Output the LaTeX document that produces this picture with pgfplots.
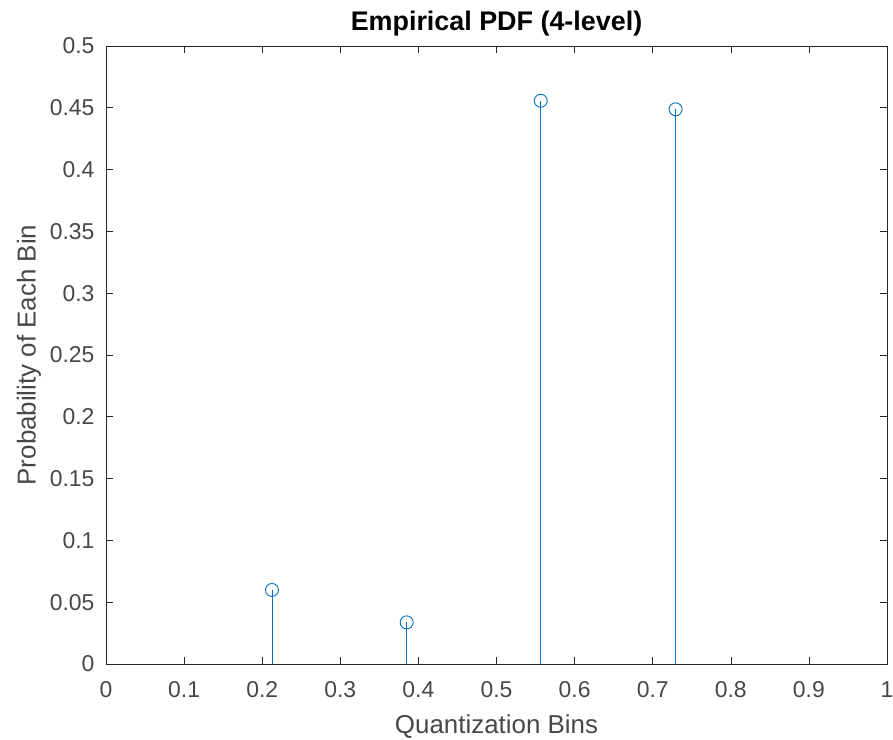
\documentclass[border=0pt]{standalone}
\usepackage{pgfplots}
\pgfplotsset{compat=1.18}
\usepackage{fontspec}
\setmainfont{Liberation Sans}
\definecolor{mblue}{rgb}{0,0.447,0.741}
\definecolor{axgray}{rgb}{0.15,0.15,0.15}
\begin{document}
\begin{tikzpicture}
\path[use as bounding box] (-106bp,-76bp) rectangle (787bp,664bp);
\begin{axis}[
  at={(0,0)}, anchor=south west,
  width=781bp, height=618bp, scale only axis,
  xmin=0, xmax=1, ymin=0, ymax=0.5,
  xtick={0,0.1,...,1.0},
  ytick={0,0.05,...,0.5},
  xticklabels={0,0.1,0.2,0.3,0.4,0.5,0.6,0.7,0.8,0.9,1},
  yticklabels={0,0.05,0.1,0.15,0.2,0.25,0.3,0.35,0.4,0.45,0.5},
  tick align=inside,
  major tick length=7bp,
  axis line style={axgray, line width=0.6bp},
  tick style={axgray, line width=0.6bp},
  every tick label/.append style={font=\fontsize{23}{26}\selectfont, text=axgray!85},
  xticklabel style={yshift=-14bp},
  yticklabel style={xshift=-8bp},
  title={\bfseries Empirical PDF (4-level)},
  title style={font=\fontsize{27}{31}\selectfont, yshift=0bp},
  xlabel={Quantization Bins},
  ylabel={Probability of Each Bin},
  label style={font=\fontsize{26}{30}\selectfont, text=axgray!85},
  xlabel style={yshift=-10bp},
  ylabel style={yshift=2bp},
]
\addplot[ycomb, mblue, line width=0.9bp, mark=o, mark size=6.5bp, mark options={line width=0.9bp}] coordinates {
(0.2125,0.0599)
(0.3850,0.0337)
(0.5566,0.4557)
(0.7293,0.4488)
};
\end{axis}
\end{tikzpicture}
\end{document}
